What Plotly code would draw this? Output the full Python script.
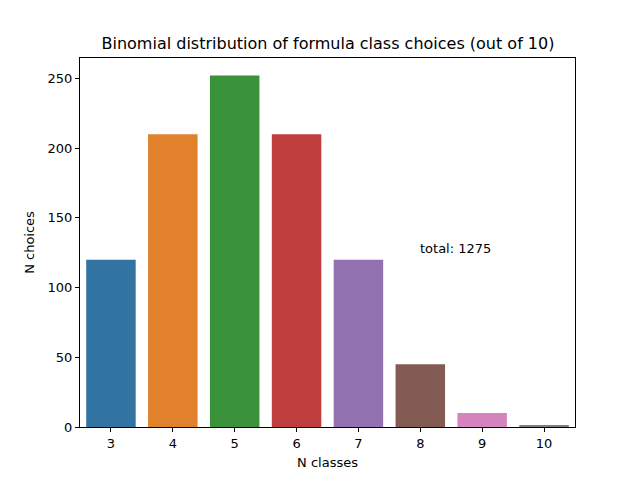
import plotly.graph_objects as go

# bar data
n_classes = ["3", "4", "5", "6", "7", "8", "9", "10"]
n_choices = [120, 210, 252, 210, 120, 45, 10, 1]
bar_colors = ["#3274a1", "#e1812c", "#3a923a", "#c03d3e",
              "#9372b2", "#845b53", "#d684bd", "#7f7f7f"]
total_label = "total: 1275"

fig = go.Figure(go.Bar(
    x=n_classes,
    y=n_choices,
    marker=dict(color=bar_colors, line=dict(width=0)),
    width=0.8,
))

axis_style = dict(
    showline=True, linecolor="black", linewidth=1, mirror=True,
    ticks="outside", ticklen=4, tickcolor="black",
    showgrid=False, zeroline=False,
    tickfont=dict(size=13, color="black"),
)

fig.update_xaxes(
    title=dict(text="N classes", font=dict(size=13, color="black"), standoff=8),
    range=[-0.5, 7.5], **axis_style,
)
fig.update_yaxes(
    title=dict(text="N choices", font=dict(size=13, color="black"), standoff=10),
    range=[0, 264.6], tickvals=[0, 50, 100, 150, 200, 250], **axis_style,
)

fig.add_annotation(
    x=5, y=125, text=total_label, showarrow=False,
    xanchor="left", yanchor="bottom", xshift=-2, yshift=-5,
    font=dict(size=13, color="black"),
)

# page has an 8px body margin, so margins are trimmed to land the axes
# where the reference has them
fig.update_layout(
    width=640, height=480,
    paper_bgcolor="white", plot_bgcolor="white",
    font=dict(family="DejaVu Sans", color="black"),
    title=dict(text="Binomial distribution of formula class choices (out of 10)",
               x=0.5, xanchor="center", y=0.927, yanchor="middle",
               font=dict(size=16, color="black")),
    margin=dict(l=72, r=73, t=50, b=61),
    showlegend=False,
)

fig.write_html("out.html")
